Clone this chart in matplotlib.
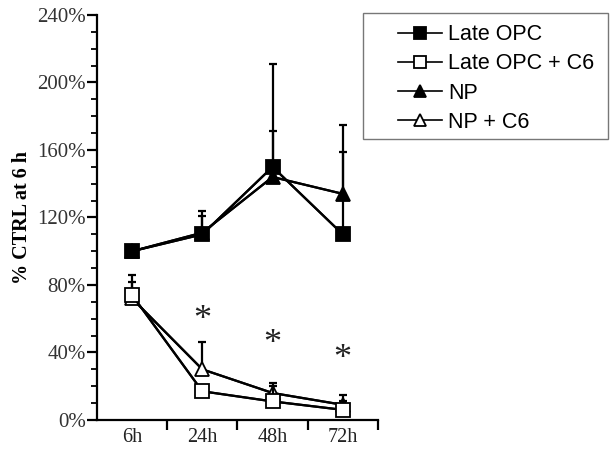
import numpy as np
import matplotlib.pyplot as plt
from matplotlib.patches import Rectangle
from matplotlib.ticker import MultipleLocator, FuncFormatter, FixedLocator

times = ['6h', '24h', '48h', '72h']

late_opc = [100, 110, 150, 110]
late_opc_err = [0, 11, 61, 65]
np_ = [100, 111, 144, 134]
np_err = [0, 13, 27, 25]

late_opc_c6 = [74, 17, 11, 6]
late_opc_c6_err = [12, 0, 9, 5]
np_c6 = [72, 30, 16, 9]
np_c6_err = [10, 16, 6, 6]

stars_y = [64, 50, 41]

fig = plt.figure(figsize=(6.12, 4.5), dpi=100)
ax = fig.add_axes([0.1585, 0.0667, 0.459, 0.9])
x = np.arange(len(times))

def series(y, err, marker, face, label, z):
    ax.errorbar(x, y, yerr=[np.zeros(len(y)), err], color='black', lw=1.6,
                elinewidth=1.6, capsize=3, capthick=1.6, zorder=z)
    ax.plot(x, y, color='black', lw=1.6, marker=marker, markersize=10,
            markerfacecolor=face, markeredgecolor='black', markeredgewidth=1.3,
            label=label, zorder=z + 1)

series(np_, np_err, '^', 'black', 'NP', 3)
series(late_opc, late_opc_err, 's', 'black', 'Late OPC', 5)
series(np_c6, np_c6_err, '^', 'white', 'NP + C6', 3)
series(late_opc_c6, late_opc_c6_err, 's', 'white', 'Late OPC + C6', 5)

for xi, yi in zip(x[1:], stars_y):
    ax.text(xi, yi - 5, '*', ha='center', va='center', fontsize=26,
            family='Liberation Serif', color='#222222')

ax.set_xlim(-0.5, 3.5)
ax.set_ylim(0, 240)
ax.spines['top'].set_visible(False)
ax.spines['right'].set_visible(False)
ax.spines['left'].set_linewidth(1.6)
ax.spines['bottom'].set_linewidth(1.6)

ax.yaxis.set_major_locator(MultipleLocator(40))
ax.yaxis.set_minor_locator(MultipleLocator(10))
ax.yaxis.set_major_formatter(FuncFormatter(lambda v, p: '%d%%' % v))
ax.tick_params(axis='y', which='major', length=7, width=1.6, labelsize=15,
               labelcolor='#333333', pad=1)
ax.tick_params(axis='y', which='minor', length=4, width=1.3)

ax.xaxis.set_major_locator(FixedLocator(x))
ax.set_xticklabels(times)
ax.xaxis.set_minor_locator(FixedLocator([0.5, 1.5, 2.5, 3.5]))
ax.tick_params(axis='x', which='major', length=0, labelsize=14.5,
               labelcolor='#222222', pad=6)
ax.tick_params(axis='x', which='minor', length=7, width=1.6)
for lab in ax.get_xticklabels() + ax.get_yticklabels():
    lab.set_family('Liberation Serif')

ax.set_ylabel('% CTRL at 6 h', family='Liberation Serif', fontweight='bold',
              fontsize=14.5, labelpad=4)

# legend box drawn separately so the entries can sit inset like the original
fig.patches.append(Rectangle((0.593, 0.691), 0.4, 0.28, transform=fig.transFigure,
                             fill=False, edgecolor='#777777', lw=1.0))
handles, labels = ax.get_legend_handles_labels()
order = [labels.index(n) for n in ['Late OPC', 'Late OPC + C6', 'NP', 'NP + C6']]
leg = fig.legend([handles[i] for i in order], [labels[i] for i in order],
                 loc='upper left', bbox_to_anchor=(0.650, 0.946),
                 prop={'family': 'Liberation Sans', 'size': 15.5},
                 handlelength=2.05, handletextpad=0.28, borderpad=0,
                 borderaxespad=0, labelspacing=0.38, frameon=False)
for h in leg.legend_handles:
    h.set_markersize(8.5)
    h.set_linewidth(1.2)

fig.savefig('out.png', dpi=100)
